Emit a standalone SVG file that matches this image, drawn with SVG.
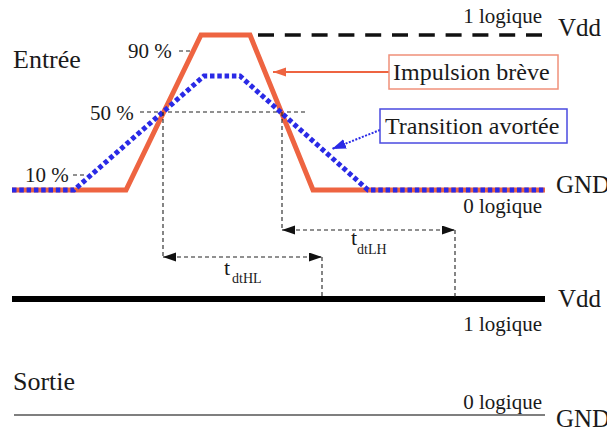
<svg xmlns="http://www.w3.org/2000/svg" width="607" height="430" viewBox="0 0 607 430">
<style>
text{font-family:"Liberation Serif","Times New Roman",serif;fill:#1a1a1a}
.t22{font-size:21px}
.big{font-size:26px}
.lab{font-size:24px}
.thin{stroke:#222;stroke-width:1.1;stroke-dasharray:4 3;fill:none}
</style>
<defs>
<marker id="ak" markerUnits="userSpaceOnUse" markerWidth="14" markerHeight="10" refX="13" refY="4.5" orient="auto-start-reverse"><path d="M0,0 L13,4.5 L0,9 z" fill="#111"/></marker>
<marker id="ar" markerUnits="userSpaceOnUse" markerWidth="14" markerHeight="10" refX="13" refY="4.5" orient="auto"><path d="M0,0 L13,4.5 L0,9 z" fill="#ee6441"/></marker>
<marker id="ab" markerUnits="userSpaceOnUse" markerWidth="15" markerHeight="11" refX="14" refY="5" orient="auto"><path d="M0,0 L14,5 L0,10 z" fill="#2a2ae6"/></marker>
</defs>

<g id="rails">
<line x1="258" y1="35" x2="543" y2="35" stroke="#111" stroke-width="3.6" stroke-dasharray="16 10.8"/>
<line x1="12" y1="299" x2="545" y2="299" stroke="#000" stroke-width="6"/>
<line x1="14" y1="415" x2="545" y2="415" stroke="#555" stroke-width="1.5"/>
</g>

<g id="guides">
<line class="thin" x1="140" y1="112" x2="308" y2="112"/>
<line class="thin" x1="179" y1="51" x2="193" y2="51"/>
<line class="thin" x1="73" y1="175" x2="86" y2="175"/>
</g>

<g id="impulsion">
<path d="M12,190 L126,190 L201,35 L250,35 L313,190 L545,190" fill="none" stroke="#ee6441" stroke-width="5"/>
</g>
<g id="transition">
<path d="M12,190 L74,190 L204,76 L240,76 L368,190 L545,190" fill="none" stroke="#2a2ae6" stroke-width="5" stroke-dasharray="4.5 2.8"/>
</g>

<g id="connectors">
<line x1="389" y1="72" x2="273" y2="72" stroke="#ee6441" stroke-width="2" marker-end="url(#ar)"/>
<line x1="380" y1="130" x2="332" y2="149" stroke="#2a2ae6" stroke-width="2" stroke-dasharray="2 1.5" marker-end="url(#ab)"/>
<line class="thin" x1="163" y1="112" x2="163" y2="257"/>
<line class="thin" x1="282" y1="112" x2="282" y2="230"/>
<line class="thin" x1="322" y1="257" x2="322" y2="297"/>
<line class="thin" x1="455" y1="230" x2="455" y2="297"/>
<line class="thin" x1="163" y1="257" x2="322" y2="257" marker-start="url(#ak)" marker-end="url(#ak)"/>
<line class="thin" x1="282" y1="230" x2="455" y2="230" marker-start="url(#ak)" marker-end="url(#ak)"/>
</g>

<g id="box-impulsion">
<rect x="389" y="55" width="169" height="34" fill="#fff" stroke="#f0907a" stroke-width="1.5"/>
<text class="lab" x="393" y="80">Impulsion brève</text>
</g>
<g id="box-transition">
<rect x="380" y="109" width="187" height="34" fill="#fff" stroke="#4a4ae0" stroke-width="1.5"/>
<text class="lab" x="385" y="134">Transition avortée</text>
</g>

<g id="labels">
<text class="big" x="13" y="68">Entrée</text>
<text class="big" x="13" y="390">Sortie</text>
<text class="t22" x="128" y="58">90 %</text>
<text class="t22" x="90" y="120">50 %</text>
<text class="t22" x="25" y="182">10 %</text>
<text class="t22" x="542" y="23" text-anchor="end">1 logique</text>
<text class="t22" x="542" y="213" text-anchor="end">0 logique</text>
<text class="t22" x="542" y="331" text-anchor="end">1 logique</text>
<text class="t22" x="542" y="409" text-anchor="end">0 logique</text>
<text style="font-size:25px" x="558" y="36">Vdd</text>
<text style="font-size:25px" x="556" y="193">GND</text>
<text style="font-size:25px" x="558" y="307">Vdd</text>
<text style="font-size:25px" x="556" y="427">GND</text>
<text style="font-size:22px" x="224" y="275">t</text>
<text style="font-size:14px" x="232" y="283">dtHL</text>
<text style="font-size:22px" x="351" y="245">t</text>
<text style="font-size:14px" x="357" y="254">dtLH</text>
</g>
</svg>
